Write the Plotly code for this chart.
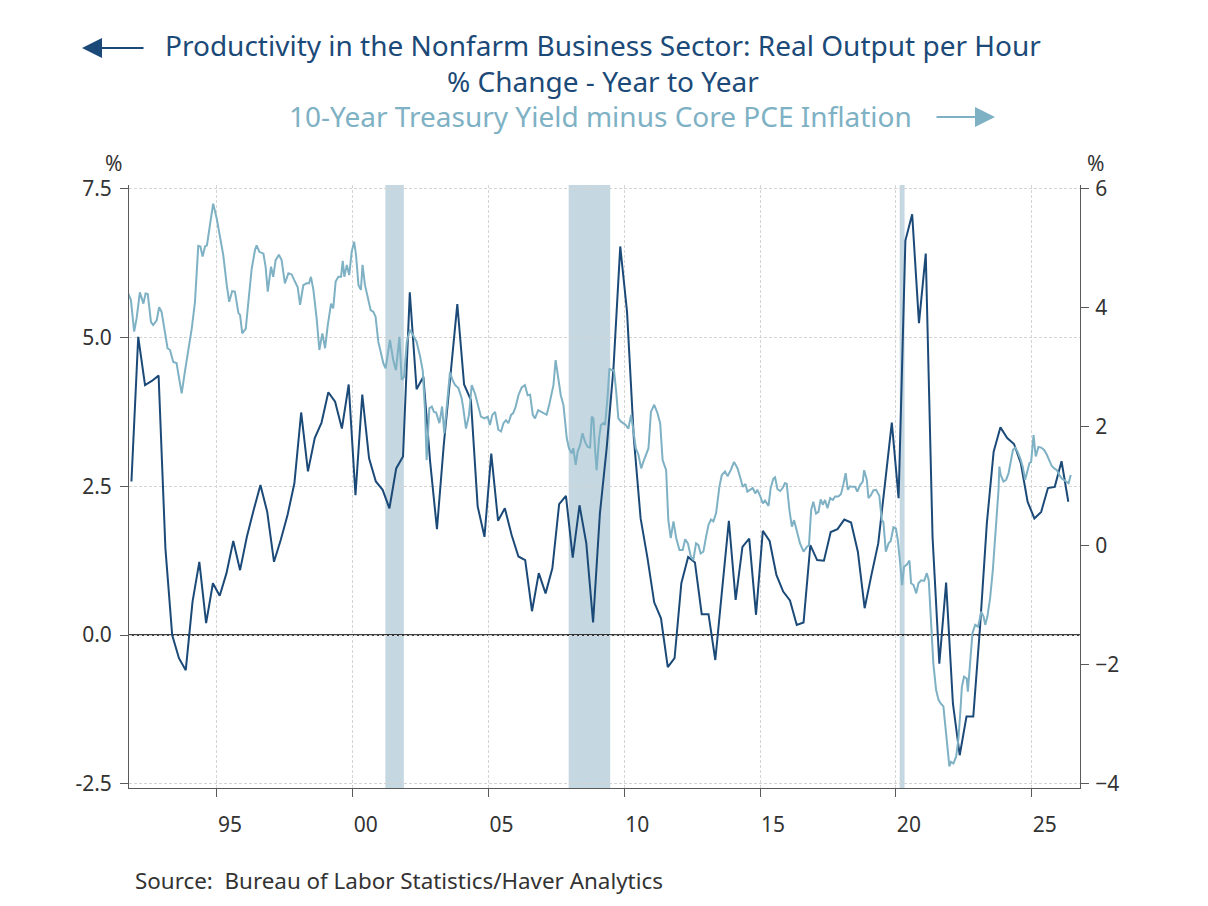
import plotly.graph_objects as go

# Productivity in the nonfarm business sector, real output per hour, % change y/y (quarterly)
prod_start = 1991.85
prod_step = 0.25
productivity = [
    2.58, 5.01, 4.20, 4.27, 4.36, 1.46, 0.00, -0.39, -0.59, 0.56,
    1.23, 0.20, 0.87, 0.66, 1.04, 1.58, 1.09, 1.65, 2.10, 2.52,
    2.07, 1.23, 1.60, 2.02, 2.55, 3.74, 2.75, 3.31, 3.57, 4.08,
    3.92, 3.47, 4.21, 2.35, 4.04, 2.97, 2.58, 2.44, 2.13, 2.80,
    3.00, 5.76, 4.13, 4.34, 2.91, 1.78, 3.19, 4.43, 5.56, 4.21,
    3.95, 2.16, 1.65, 3.05, 1.92, 2.13, 1.68, 1.32, 1.26, 0.40,
    1.04, 0.70, 1.12, 2.20, 2.34, 1.30, 2.18, 1.54, 0.21, 2.04,
    3.14, 4.48, 6.53, 5.43, 3.31, 1.96, 1.30, 0.55, 0.28, -0.54,
    -0.39, 0.87, 1.31, 1.22, 0.35, 0.35, -0.42, 0.76, 1.92, 0.59,
    1.48, 1.62, 0.34, 1.75, 1.58, 1.01, 0.73, 0.58, 0.17, 0.21,
    1.51, 1.26, 1.25, 1.73, 1.78, 1.94, 1.89, 1.40, 0.45, 1.01,
    1.54, 2.55, 3.57, 2.30, 6.63, 7.07, 5.24, 6.41, 1.65, -0.48,
    0.88, -1.15, -2.02, -1.37, -1.37, 0.14, 1.88, 3.08, 3.49, 3.31,
    3.21, 2.89, 2.24, 1.96, 2.07, 2.47, 2.49, 2.92, 2.24,
]

# 10-year Treasury yield minus core PCE inflation (decimal year, %)
spread_year = [
    1991.73, 1991.83, 1991.95, 1992.04, 1992.16, 1992.29, 1992.37, 1992.45, 1992.57, 1992.65,
    1992.78, 1992.87, 1992.96, 1993.06, 1993.18, 1993.27, 1993.39, 1993.51, 1993.60, 1993.70,
    1993.82, 1993.94, 1994.07, 1994.19, 1994.31, 1994.39, 1994.47, 1994.56, 1994.63, 1994.74,
    1994.86, 1994.99, 1995.11, 1995.23, 1995.36, 1995.45, 1995.56, 1995.66, 1995.79, 1995.85,
    1995.93, 1996.06, 1996.18, 1996.28, 1996.40, 1996.46, 1996.56, 1996.71, 1996.79, 1996.87,
    1996.99, 1997.07, 1997.16, 1997.28, 1997.38, 1997.50, 1997.63, 1997.75, 1997.87, 1997.97,
    1998.06, 1998.18, 1998.30, 1998.39, 1998.46, 1998.55, 1998.67, 1998.77, 1998.88, 1998.98,
    1999.08, 1999.20, 1999.28, 1999.37, 1999.47, 1999.57, 1999.63, 1999.69, 1999.78, 1999.87,
    1999.96, 2000.05, 2000.12, 2000.21, 2000.30, 2000.36, 2000.45, 2000.57, 2000.66, 2000.76,
    2000.84, 2000.94, 2001.04, 2001.13, 2001.21,
    2001.37, 2001.49, 2001.59, 2001.72, 2001.80, 2001.89, 2001.99, 2002.11, 2002.23, 2002.35,
    2002.48, 2002.58, 2002.66, 2002.72, 2002.82, 2002.91, 2002.99, 2003.07, 2003.19, 2003.29,
    2003.37,
    2003.58, 2003.67, 2003.77, 2003.89, 2004.01, 2004.07, 2004.17, 2004.28, 2004.38, 2004.50,
    2004.63, 2004.72, 2004.85, 2004.97, 2005.05, 2005.14, 2005.24, 2005.36, 2005.46, 2005.55,
    2005.64, 2005.73, 2005.83, 2005.91, 2006.00, 2006.10, 2006.22, 2006.34, 2006.44, 2006.53,
    2006.63, 2006.71, 2006.83, 2006.93, 2007.02, 2007.14, 2007.23, 2007.33, 2007.39, 2007.47,
    2007.57, 2007.66, 2007.76, 2007.88, 2007.96, 2008.06, 2008.12, 2008.21, 2008.28, 2008.37,
    2008.46, 2008.55, 2008.65, 2008.74, 2008.80, 2008.86, 2008.92, 2008.98, 2009.07, 2009.14,
    2009.23, 2009.29, 2009.38, 2009.45, 2009.54, 2009.62, 2009.70, 2009.78, 2009.87, 2009.97,
    2010.05, 2010.15, 2010.25, 2010.33, 2010.42, 2010.52, 2010.62, 2010.70, 2010.79, 2010.89,
    2010.98,
    2011.10, 2011.22, 2011.32, 2011.41, 2011.54, 2011.62, 2011.71, 2011.81, 2011.91, 2012.03,
    2012.15, 2012.24, 2012.34, 2012.45, 2012.54, 2012.64, 2012.73, 2012.81, 2012.91, 2013.01,
    2013.10, 2013.19, 2013.28, 2013.38, 2013.50, 2013.59, 2013.71, 2013.80, 2013.92, 2014.04,
    2014.17, 2014.26, 2014.36, 2014.46, 2014.53, 2014.63, 2014.73, 2014.82, 2014.90, 2015.00,
    2015.10, 2015.18, 2015.31, 2015.39, 2015.49, 2015.55, 2015.64, 2015.74, 2015.83, 2015.91,
    2015.98, 2016.08, 2016.17, 2016.25, 2016.35, 2016.47, 2016.60, 2016.72, 2016.80, 2016.88,
    2016.96, 2017.06, 2017.15, 2017.23, 2017.31, 2017.39, 2017.48, 2017.58, 2017.68, 2017.76,
    2017.88, 2017.98, 2018.07, 2018.15, 2018.23, 2018.31, 2018.41, 2018.50, 2018.58, 2018.68,
    2018.78, 2018.83, 2018.93, 2018.99, 2019.08, 2019.17, 2019.27, 2019.39, 2019.48, 2019.54,
    2019.63, 2019.73, 2019.81, 2019.91, 2020.00, 2020.07, 2020.16, 2020.23, 2020.30,
    2020.40, 2020.50, 2020.56, 2020.65, 2020.75, 2020.83, 2020.93, 2021.04, 2021.14, 2021.21,
    2021.29, 2021.38, 2021.48, 2021.57, 2021.65, 2021.75, 2021.81, 2021.90, 2021.97, 2022.03,
    2022.12, 2022.22, 2022.30, 2022.37, 2022.43, 2022.51, 2022.61, 2022.65, 2022.73, 2022.82,
    2022.92, 2023.02, 2023.08, 2023.14, 2023.23, 2023.29, 2023.37, 2023.47, 2023.57, 2023.65,
    2023.72, 2023.78, 2023.81, 2023.86, 2023.96, 2024.06, 2024.15, 2024.23, 2024.31, 2024.39,
    2024.48, 2024.58, 2024.67, 2024.76, 2024.82, 2024.92, 2024.98, 2025.07, 2025.15, 2025.25,
    2025.35, 2025.46, 2025.56, 2025.66, 2025.74, 2025.83, 2025.93, 2026.02, 2026.11, 2026.27,
    2026.36, 2026.44,
]
spread_value = [
    4.24, 4.13, 3.60, 3.82, 4.26, 4.07, 4.24, 4.23, 3.76, 3.71,
    3.79, 4.01, 3.93, 3.65, 3.32, 3.29, 3.09, 3.07, 2.81, 2.56,
    2.93, 3.26, 3.65, 4.10, 5.04, 5.03, 4.86, 5.03, 5.05, 5.39,
    5.75, 5.50, 5.22, 4.89, 4.38, 4.10, 4.28, 4.27, 3.91, 3.88,
    3.57, 3.65, 4.21, 4.66, 4.97, 5.05, 4.94, 4.91, 4.69, 4.27,
    4.69, 4.52, 4.80, 4.89, 4.80, 4.41, 4.58, 4.56, 4.44, 4.35,
    4.05, 4.38, 4.41, 4.41, 4.52, 4.30, 3.82, 3.29, 3.57, 3.32,
    3.71, 4.07, 3.99, 4.44, 4.52, 4.52, 4.79, 4.52, 4.72, 4.55,
    4.94, 5.11, 4.89, 4.38, 4.30, 4.72, 4.38, 4.13, 3.96, 3.93,
    3.85, 3.43, 3.21, 3.06, 2.98,
    3.46, 3.12, 2.95, 3.51, 2.79, 2.84, 3.43, 3.63, 3.54, 3.43,
    3.18, 2.93, 2.28, 1.44, 2.31, 2.34, 2.25, 2.24, 2.06, 2.34,
    1.89,
    2.92, 2.79, 2.70, 2.65, 2.48, 2.31, 1.97, 2.20, 2.70, 2.56,
    2.34, 2.17, 2.14, 2.17, 2.03, 2.20, 2.25, 1.95, 1.92, 2.06,
    2.11, 2.06, 2.20, 2.23, 2.34, 2.53, 2.66, 2.70, 2.53, 2.54,
    2.20, 2.14, 2.28, 2.25, 2.23, 2.20, 2.36, 2.59, 2.70, 3.12,
    2.84, 2.53, 2.36, 1.81, 1.64, 1.55, 1.64, 1.36, 1.58, 1.69,
    1.89, 1.75, 1.66, 1.65, 2.17, 2.14, 1.64, 1.27, 1.81, 2.03,
    2.06, 2.03, 2.48, 2.98, 2.95, 2.95, 2.59, 2.14, 2.09, 2.06,
    2.03, 1.97, 2.20, 1.95, 1.64, 1.53, 1.30, 1.41, 1.53, 1.64,
    2.25,
    2.37, 2.23, 2.06, 1.44, 1.27, 0.43, 0.13, 0.41, 0.13, -0.07,
    -0.07, 0.11, 0.04, -0.18, -0.24, 0.04, 0.01, -0.13, -0.10, 0.15,
    0.35, 0.44, 0.41, 0.55, 0.99, 1.19, 1.25, 1.17, 1.27, 1.41,
    1.30, 1.16, 0.99, 1.04, 0.91, 0.94, 0.97, 0.88, 0.94, 0.84,
    0.71, 0.76, 0.67, 0.97, 1.13, 1.15, 0.95, 0.92, 0.97, 1.05,
    1.04, 0.60, 0.32, 0.43, 0.27, 0.04, -0.10, -0.02, 0.01, 0.60,
    0.74, 0.54, 0.57, 0.78, 0.69, 0.77, 0.63, 0.80, 0.77, 0.83,
    0.83, 0.87, 1.04, 1.22, 0.94, 1.00, 0.99, 0.99, 0.91, 1.02,
    1.08, 1.27, 1.11, 0.80, 0.85, 0.93, 0.94, 0.84, 0.43, 0.40,
    -0.10, 0.04, 0.08, 0.31, 0.29, 0.10, -0.30, -0.66, -0.35,
    -0.32, -0.25, -0.63, -0.66, -0.80, -0.63, -0.58, -0.59, -0.46, -0.58,
    -1.36, -1.98, -2.42, -2.59, -2.65, -2.70, -2.98, -3.43, -3.71, -3.63,
    -3.66, -3.54, -3.26, -2.82, -2.37, -2.20, -2.23, -2.45, -1.98, -1.47,
    -1.33, -1.36, -1.25, -1.11, -1.19, -1.33, -1.19, -0.88, -0.41, 0.15,
    0.49, 0.94, 1.33, 1.19, 1.08, 1.11, 1.22, 1.44, 1.61, 1.65,
    1.58, 1.47, 1.33, 1.11, 1.22, 1.39, 1.41, 1.86, 1.50, 1.66,
    1.65, 1.61, 1.53, 1.41, 1.34, 1.30, 1.27, 1.19, 1.13, 1.08,
    1.05, 1.19,
]

# NBER recessions (start, end)
recessions = [(2001.2, 2001.88), (2007.95, 2009.48), (2020.14, 2020.32)]

x_ticks = [1995, 2000, 2005, 2010, 2015, 2020, 2025]
x_labels = ['95', '00', '05', '10', '15', '20', '25']
left_ticks = [-2.5, 0, 2.5, 5, 7.5]
left_labels = ['-2.5', '0.0', '2.5', '5.0', '7.5']
right_ticks = [-4, -2, 0, 2, 4, 6]

DARK = '#1c4a78'
LIGHT = '#7eb1c4'
AXIS = '#5a5a5a'
GRID = '#d4d4d4'
TEXT = '#333333'
FONT = 'Noto Sans'

prod_year = [prod_start + prod_step * i for i in range(len(productivity))]

fig = go.Figure()

fig.add_trace(go.Scatter(
    x=spread_year, y=spread_value, yaxis='y2',
    mode='lines', line=dict(color=LIGHT, width=2),
    name='10-Year Treasury Yield minus Core PCE Inflation', showlegend=False
))
fig.add_trace(go.Scatter(
    x=prod_year, y=productivity,
    mode='lines', line=dict(color=DARK, width=2),
    name='Productivity', showlegend=False
))

for start, end in recessions:
    fig.add_shape(type='rect', xref='x', yref='paper', x0=start, x1=end, y0=0, y1=1,
                  fillcolor='#c5d7e1', line=dict(width=0), layer='between')

# zero line on the left axis
fig.add_shape(type='line', xref='paper', yref='y', x0=0, x1=1, y0=0, y1=0,
              line=dict(color='black', width=1.5), layer='between')

tick_font = dict(family=FONT, size=21, color=TEXT)

# the page body adds 8px around the figure, so the figure is 16px smaller than the window
fig.update_layout(
    template='none',
    width=1192, height=890,
    margin=dict(l=121, r=120, t=177, b=110, pad=0),
    paper_bgcolor='white', plot_bgcolor='white',
    showlegend=False,
    xaxis=dict(
        range=[1991.76, 2026.78], tickvals=x_ticks, ticktext=x_labels,
        ticklabelshift=13, ticklabelstandoff=10, ticks='outside', ticklen=8, tickcolor=AXIS,
        showline=True, linecolor=AXIS, linewidth=1,
        showgrid=True, gridcolor=GRID, griddash='3px,2px', gridwidth=1,
        zeroline=False, tickfont=tick_font, automargin=False,
    ),
    yaxis=dict(
        range=[-2.571, 7.563], tickvals=left_ticks, ticktext=left_labels,
        ticks='outside', ticklen=8, tickcolor=AXIS, ticklabelstandoff=4,
        showline=True, linecolor=AXIS, linewidth=1,
        showgrid=True, gridcolor=GRID, griddash='3px,2px', gridwidth=1,
        zeroline=False, tickfont=tick_font, automargin=False,
    ),
    yaxis2=dict(
        range=[-4.071, 6.063], tickvals=right_ticks, overlaying='y', side='right',
        ticks='outside', ticklen=8, tickcolor=AXIS, ticklabelstandoff=2,
        showline=True, linecolor=AXIS, linewidth=1,
        showgrid=False, zeroline=False, tickfont=tick_font, automargin=False,
    ),
)

# headings
fig.add_annotation(xref='paper', yref='paper', x=0.4984, y=1.2030, xanchor='center', yanchor='middle',
                   text='Productivity in the Nonfarm Business Sector: Real Output per Hour<br>% Change - Year to Year',
                   showarrow=False, font=dict(family=FONT, size=28, color=DARK))
fig.add_annotation(xref='paper', yref='paper', x=0.4963, y=1.1145, xanchor='center', yanchor='middle',
                   text='10-Year Treasury Yield minus Core PCE Inflation',
                   showarrow=False, font=dict(family=FONT, size=28, color=LIGHT))
fig.add_annotation(xref='paper', yref='paper', x=-0.0494, y=1.2272, text='', showarrow=True,
                   ax=63, ay=0, arrowhead=2, arrowsize=2, arrowwidth=2, arrowcolor=DARK, standoff=0)
fig.add_annotation(xref='paper', yref='paper', x=0.9106, y=1.1128, text='', showarrow=True,
                   ax=-60, ay=0, arrowhead=2, arrowsize=2, arrowwidth=2, arrowcolor=LIGHT, standoff=0)

# unit labels
fig.add_annotation(xref='paper', yref='paper', x=-0.0158, y=1.0365, xanchor='center', yanchor='middle',
                   text='%', showarrow=False, font=dict(family=FONT, size=21, color=TEXT))
fig.add_annotation(xref='paper', yref='paper', x=1.0158, y=1.0365, xanchor='center', yanchor='middle',
                   text='%', showarrow=False, font=dict(family=FONT, size=21, color=TEXT))

fig.add_annotation(xref='paper', yref='paper', x=0.0045, y=-0.1540, xanchor='left', yanchor='middle',
                   text='Source:  Bureau of Labor Statistics/Haver Analytics', showarrow=False,
                   font=dict(family=FONT, size=22.4, color=TEXT))

fig.write_html('out.html')
